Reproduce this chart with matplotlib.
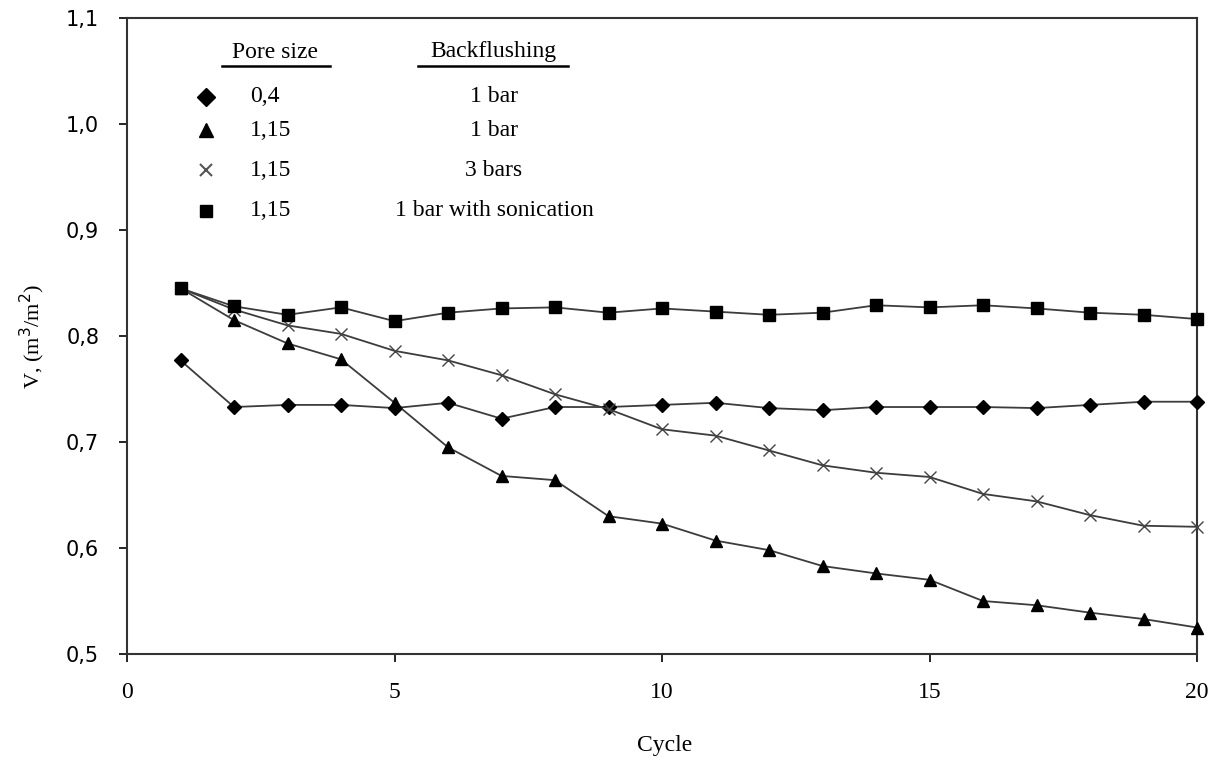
import numpy as np
import matplotlib.pyplot as plt

# datos
cycle = np.arange(1, 21)
v_04_1bar = [0.777, 0.733, 0.735, 0.735, 0.732, 0.737, 0.722, 0.733, 0.733, 0.735,
             0.737, 0.732, 0.730, 0.733, 0.733, 0.733, 0.732, 0.735, 0.738, 0.738]
v_115_1bar = [0.845, 0.815, 0.793, 0.778, 0.737, 0.695, 0.668, 0.664, 0.630, 0.623,
              0.607, 0.598, 0.583, 0.576, 0.570, 0.550, 0.546, 0.539, 0.533, 0.525]
v_115_3bar = [0.845, 0.825, 0.810, 0.802, 0.786, 0.777, 0.763, 0.745, 0.731, 0.712,
              0.706, 0.692, 0.678, 0.671, 0.667, 0.651, 0.644, 0.631, 0.621, 0.620]
v_115_son = [0.845, 0.828, 0.820, 0.827, 0.814, 0.822, 0.826, 0.827, 0.822, 0.826,
             0.823, 0.820, 0.822, 0.829, 0.827, 0.829, 0.826, 0.822, 0.820, 0.816]

pore = ["0,4", "1,15", "1,15", "1,15"]
backflush = ["1 bar", "1 bar", "3 bars", "1 bar with sonication"]
yticks = [0.5, 0.6, 0.7, 0.8, 0.9, 1.0, 1.1]
xticks = [0, 5, 10, 15, 20]

serif = "Liberation Serif"
W, H = 1218, 766

fig = plt.figure(figsize=(W / 100, H / 100), dpi=100)
ax = fig.add_axes([127 / W, 1 - 654 / H, (1197 - 127) / W, (654 - 18) / H])

lc = "#3c3c3c"
ax.plot(cycle, v_04_1bar, color=lc, lw=1.3, marker="D", ms=7, mfc="k", mec="k", clip_on=False, zorder=3)
ax.plot(cycle, v_115_1bar, color=lc, lw=1.3, marker="^", ms=9, mfc="k", mec="k", clip_on=False, zorder=3)
ax.plot(cycle, v_115_3bar, color=lc, lw=1.3, marker="x", ms=8, mfc="k", mec="#444444", mew=1.0, clip_on=False, zorder=3)
ax.plot(cycle, v_115_son, color=lc, lw=1.3, marker="s", ms=9, mfc="k", mec="k", clip_on=False, zorder=3)

ax.set_xlim(0, 20)
ax.set_ylim(0.5, 1.1)
ax.set_xticks(xticks)
ax.set_xticklabels([str(t) for t in xticks], fontfamily=serif, fontsize=17)
ax.set_yticks(yticks)
ax.set_yticklabels([("%.1f" % t).replace(".", ",") for t in yticks], fontfamily="DejaVu Sans", fontsize=15)
ax.tick_params(direction="out", length=6, width=1.2, pad=14)
for s in ax.spines.values():
    s.set_linewidth(1.5)
    s.set_color("#333333")

fig.text(665 / W, 1 - 746 / H, "Cycle", ha="center", va="center", fontfamily=serif, fontsize=17)
fig.text(32 / W, 1 - 336 / H, r"V, (m$^3$/m$^2$)", ha="center", va="center", rotation=90,
         fontfamily=serif, fontsize=16)

# leyenda hecha a mano
def fx(px):
    return px / W

def fy(py):
    return 1 - py / H

fig.text(fx(275), fy(53), "Pore size", ha="center", va="center", fontfamily=serif, fontsize=17)
fig.text(fx(493), fy(51), "Backflushing", ha="center", va="center", fontfamily=serif, fontsize=17)
fig.add_artist(plt.Line2D([fx(222), fx(330)], [fy(66), fy(66)], color="k", lw=1.8))
fig.add_artist(plt.Line2D([fx(418), fx(568)], [fy(66), fy(66)], color="k", lw=1.8))

rows_y = [97, 130, 170, 211]
markers = [("D", 9), ("^", 10), ("x", 9), ("s", 9)]
for i in range(4):
    m, ms = markers[i]
    fig.add_artist(plt.Line2D([fx(206)], [fy(rows_y[i])], marker=m, ms=ms, color="k", mfc="k",
                              mec="#555555" if m == "x" else "k", mew=1.5 if m == "x" else 1))
    fig.text(fx(250), fy(rows_y[i]), pore[i], ha="left", va="center", fontfamily=serif, fontsize=17)
    fig.text(fx(494), fy(rows_y[i]), backflush[i], ha="center", va="center", fontfamily=serif, fontsize=17)

fig.savefig("out.png", dpi=100)
